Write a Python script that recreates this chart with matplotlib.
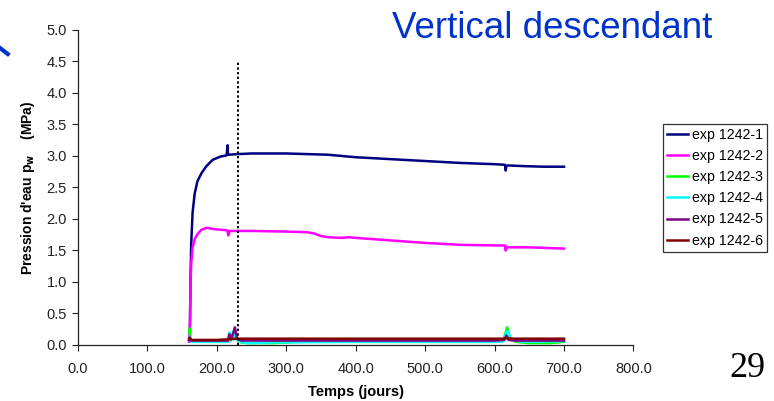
import matplotlib.pyplot as plt
from matplotlib.lines import Line2D

plt.rcParams['font.family'] = ['Liberation Sans', 'DejaVu Sans']

labels = ['exp 1242-1', 'exp 1242-2', 'exp 1242-3', 'exp 1242-4', 'exp 1242-5', 'exp 1242-6']
colours = ['#000080', '#FF00FF', '#00FF00', '#00FFFF', '#800080', '#800000']

# temps (jours) / pression (MPa)
t1 = [160, 161, 162, 163, 165, 168, 172, 178, 185, 194, 205, 214, 215.5, 216, 217, 230, 250, 270,
      300, 330, 360, 400, 450, 500, 550, 600, 615, 616, 617, 619, 640, 670, 700]
p1 = [0.08, 0.1, 1.0, 1.6, 2.1, 2.4, 2.6, 2.73, 2.84, 2.94, 2.99, 3.01, 3.17, 3.02, 3.02, 3.03, 3.04, 3.04,
      3.04, 3.03, 3.02, 2.98, 2.95, 2.92, 2.89, 2.87, 2.86, 2.77, 2.84, 2.85, 2.84, 2.83, 2.83]

t2 = [160, 161, 162, 163, 165, 168, 172, 178, 185, 195, 205, 215, 216.5, 218, 250, 300, 330, 340,
      350, 360, 380, 390, 400, 450, 500, 550, 600, 615, 616, 617, 619, 650, 700]
p2 = [0.05, 0.2, 0.9, 1.3, 1.55, 1.68, 1.76, 1.83, 1.86, 1.84, 1.83, 1.82, 1.74, 1.81, 1.81, 1.8, 1.79, 1.77,
      1.73, 1.71, 1.7, 1.71, 1.7, 1.66, 1.62, 1.59, 1.58, 1.58, 1.5, 1.56, 1.55, 1.55, 1.53]

t3 = [160, 161, 162, 165, 200, 216, 218, 220, 225, 228, 235, 245, 280, 320, 400, 500, 600,
      612, 616, 618, 622, 630, 650, 680, 700]
p3 = [0.2, 0.26, 0.06, 0.05, 0.05, 0.05, 0.12, 0.07, 0.16, 0.1, 0.04, 0.03, 0.03, 0.05, 0.05, 0.05, 0.05,
      0.06, 0.2, 0.28, 0.12, 0.05, 0.03, 0.03, 0.05]

t4 = [160, 161, 163, 200, 216, 218, 220, 225, 227, 232, 245, 280, 400, 500, 600,
      613, 617, 619, 624, 640, 700]
p4 = [0.1, 0.12, 0.05, 0.05, 0.05, 0.2, 0.08, 0.25, 0.12, 0.05, 0.03, 0.04, 0.05, 0.05, 0.05,
      0.06, 0.2, 0.22, 0.08, 0.05, 0.06]

t5 = [160, 161, 163, 200, 216, 218, 220, 224, 226, 229, 235, 300, 400, 500, 600,
      614, 617, 620, 630, 700]
p5 = [0.08, 0.12, 0.07, 0.07, 0.07, 0.17, 0.09, 0.2, 0.28, 0.1, 0.07, 0.07, 0.07, 0.07, 0.07,
      0.08, 0.15, 0.08, 0.07, 0.07]

t6 = [160, 161, 165, 200, 215, 230, 240, 300, 400, 500, 600, 615, 618, 625, 700]
p6 = [0.1, 0.09, 0.08, 0.08, 0.09, 0.1, 0.1, 0.1, 0.1, 0.1, 0.1, 0.1, 0.11, 0.1, 0.1]

times = [t1, t2, t3, t4, t5, t6]
pressures = [p1, p2, p3, p4, p5, p6]

fig = plt.figure(figsize=(7.74, 4.01), dpi=100)
ax = fig.add_axes([0.1008, 0.1397, 0.7176, 0.7855])

for t, p, c, lab in zip(times, pressures, colours, labels):
    ax.plot(t, p, color=c, lw=1.8, label=lab)

# repere a 230 jours
ax.plot([230, 230], [0, 4.5], color='black', lw=1.4, ls=(0, (1.2, 1.2)))

ax.set_xlim(0, 800)
ax.set_ylim(0, 5)
ax.set_xticks(range(0, 801, 100))
ax.set_xticklabels(['%.1f' % v for v in range(0, 801, 100)])
ax.set_yticks([i * 0.5 for i in range(11)])
ax.set_yticklabels(['%.1f' % (i * 0.5) for i in range(11)])
ax.tick_params(labelsize=10.5, length=4, width=0.8, colors='#222222')
ax.tick_params(axis='x', pad=8)
ax.tick_params(axis='y', pad=4)
ax.spines['top'].set_visible(False)
ax.spines['right'].set_visible(False)
for s in ('left', 'bottom'):
    ax.spines[s].set_linewidth(0.9)
    ax.spines[s].set_color('#222222')

ax.set_xlabel('Temps (jours)', fontsize=10.5, fontweight='bold', labelpad=7)
ax.set_ylabel(r"Pression d'eau p$_\mathbf{w}$    (MPa)", fontsize=10, fontweight='bold', labelpad=7)

handles = [Line2D([], [], color=c, lw=1.8) for c in colours]
leg = fig.legend(handles, labels, loc='upper left', bbox_to_anchor=(0.8566, 0.691),
                 fontsize=10.2, frameon=True, fancybox=False, handlelength=1.45,
                 handletextpad=0.3, labelspacing=0.5, borderpad=0.3, borderaxespad=0)
leg.get_frame().set_edgecolor('black')
leg.get_frame().set_linewidth(0.9)

fig.text(0.5065, 0.905, 'Vertical descendant', color='#0033CC', fontsize=26.5, ha='left', va='baseline')
fig.text(0.942, 0.06, '29', family=['Liberation Serif', 'DejaVu Serif'], fontsize=26, ha='left', va='baseline')

# bout de fleche bleue en marge gauche
fig.add_artist(Line2D([0.0, 0.01], [1 - 48 / 401, 1 - 54 / 401], color='#0033CC', lw=3,
                      transform=fig.transFigure))

fig.savefig('out.png', dpi=100)
